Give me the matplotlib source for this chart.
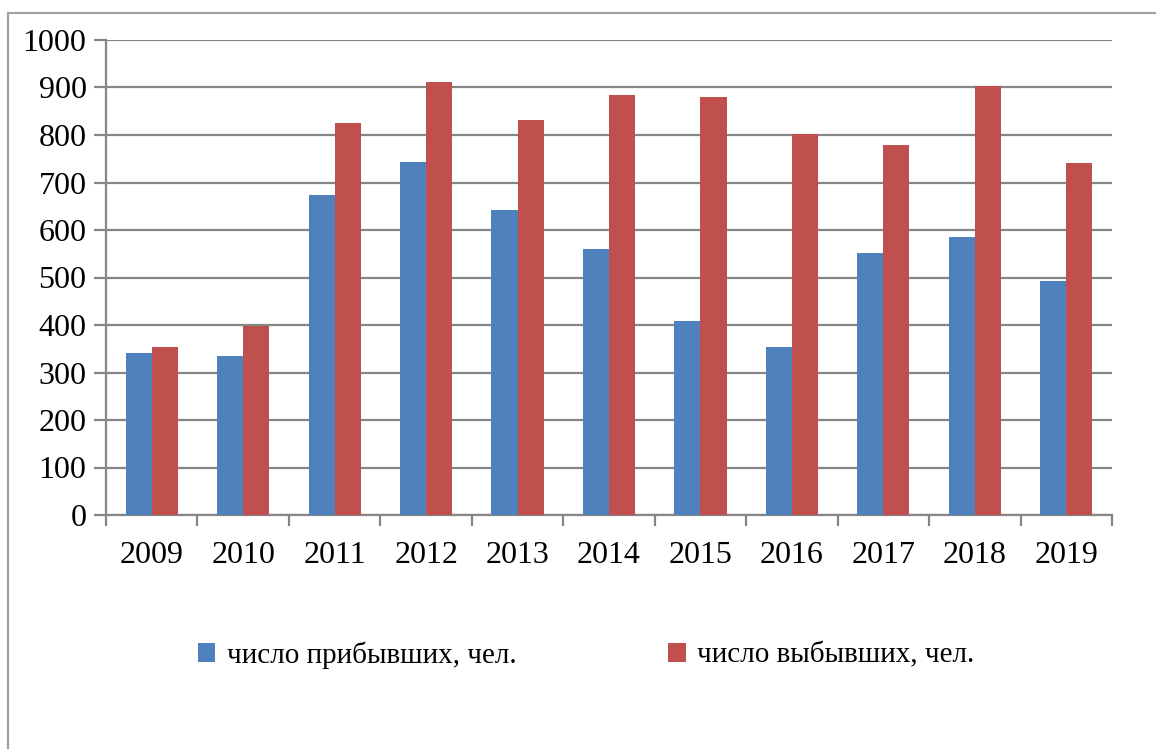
import matplotlib.pyplot as plt
import numpy as np
from matplotlib.lines import Line2D

years = ["2009", "2010", "2011", "2012", "2013", "2014", "2015", "2016", "2017", "2018", "2019"]
arrived = [341, 335, 674, 743, 642, 560, 408, 354, 552, 585, 493]
departed = [353, 397, 825, 912, 832, 884, 880, 802, 779, 904, 742]

plt.rcParams['font.family'] = 'serif'
plt.rcParams['font.serif'] = ['Liberation Serif', 'DejaVu Serif']

fig = plt.figure(figsize=(11.56, 7.49), dpi=100)
ax = fig.add_axes([106 / 1156, 1 - 515 / 749, 1006 / 1156, 475 / 749])

x = np.arange(len(years))
w = 0.285
ax.bar(x - w / 2, arrived, w, color='#4F81BD', label='число прибывших, чел.', zorder=3)
ax.bar(x + w / 2, departed, w, color='#C0504D', label='число выбывших, чел.', zorder=3)

ax.set_xlim(-0.5, len(years) - 0.5)
ax.set_ylim(0, 1000)
ax.set_yticks(range(0, 1001, 100))
ax.yaxis.grid(True, color='#868686', linewidth=1.6, zorder=0)
ax.tick_params(axis='y', length=9, width=1.6, color='#868686', labelsize=23, pad=5)

ax.set_xticks(x)
ax.set_xticklabels(years)
ax.set_xticks(np.arange(-0.5, len(years)), minor=True)
ax.tick_params(axis='x', which='major', length=0, labelsize=23, pad=19)
ax.tick_params(axis='x', which='minor', length=8, width=1.6, color='#868686')

for s in ['top', 'right']:
    ax.spines[s].set_visible(False)
for s in ['left', 'bottom']:
    ax.spines[s].set_color('#868686')
    ax.spines[s].set_linewidth(1.6)

leg = fig.legend(loc='center', bbox_to_anchor=(0.507, 1 - 655 / 749), ncol=2, frameon=False,
                 fontsize=21, handlelength=0.6, handleheight=0.6, handletextpad=0.4,
                 columnspacing=5.2)

fig.add_artist(Line2D([8 / 1156, 8 / 1156], [0, 1 - 13 / 749], color='#A0A0A0', linewidth=1.5))
fig.add_artist(Line2D([8 / 1156, 1], [1 - 13 / 749, 1 - 13 / 749], color='#A0A0A0', linewidth=1.5))

fig.savefig('out.png', dpi=100)
